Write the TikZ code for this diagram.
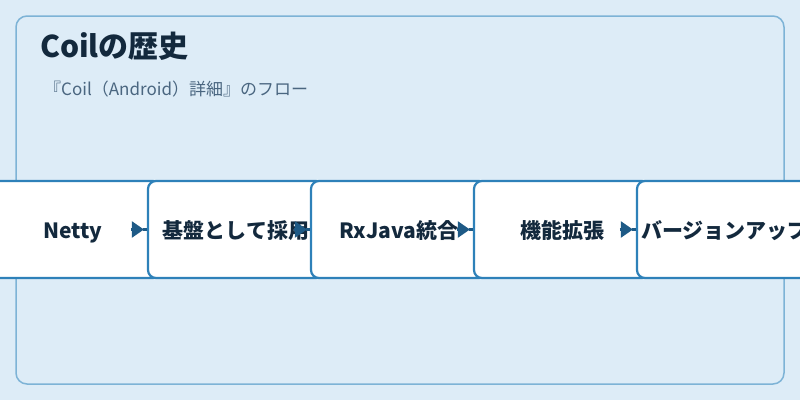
\documentclass[tikz,border=0pt]{standalone}
\usepackage{fontspec}
\setmainfont{Noto Sans CJK JP}
\usetikzlibrary{arrows.meta,positioning}

\definecolor{bgc}{HTML}{DDECF7}
\definecolor{framec}{HTML}{7DB3D6}
\definecolor{boxc}{HTML}{2E81B9}
\definecolor{arrowc}{HTML}{1E5A86}
\definecolor{titlec}{HTML}{13293D}
\definecolor{subc}{HTML}{4A6680}

\tikzset{
    stage/.style={rectangle, rounded corners=8pt, draw=boxc, line width=2.2pt, fill=white,
        minimum width=176pt, minimum height=97pt, text=titlec,
        text height=17.5pt, text depth=0pt,
        font=\fontsize{21}{25}\selectfont\bfseries},
    stub/.style={draw=arrowc, line width=2.2pt},
    flow/.style={draw=arrowc, line width=2.2pt, -{Triangle[length=12pt,width=16pt]}}
}

\begin{document}
\begin{tikzpicture}[x=1pt, y=-1pt]
        \useasboundingbox (0, 0) rectangle (800, 400);
        \clip (0, 0) rectangle (800, 400);
        \fill[bgc] (0, 0) rectangle (800, 400);
        \draw[framec, line width=1.5pt, rounded corners=11pt] (16, 16) rectangle (784, 384);

        \node[anchor=base west, text=titlec, font=\fontsize{30}{34}\selectfont\bfseries, inner sep=0pt] (title) at (40, 57) {Coilの歴史};
        \node[anchor=base west, text=subc, font=\fontsize{17}{20}\selectfont, inner sep=0pt] (sub) at (44, 95) {『Coil（Android）詳細』のフロー};

        \node[stage] (s1) at (73, 229.5) {Netty};
        \node[stage] (s2) at (236, 229.5) {基盤として採用};
        \node[stage] (s3) at (399, 229.5) {RxJava統合};
        \node[stage] (s4) at (562, 229.5) {機能拡張};
        \node[stage] (s5) at (725, 229.5) {バージョンアップ};

        \foreach \b in {s2, s3, s4, s5} {
            \draw[stub] ([xshift=-4pt]\b.west) -- (\b.west);
            \draw[flow] ([xshift=-16pt]\b.west) -- ([xshift=-3pt]\b.west);
        }

    \end{tikzpicture}
\end{document}
